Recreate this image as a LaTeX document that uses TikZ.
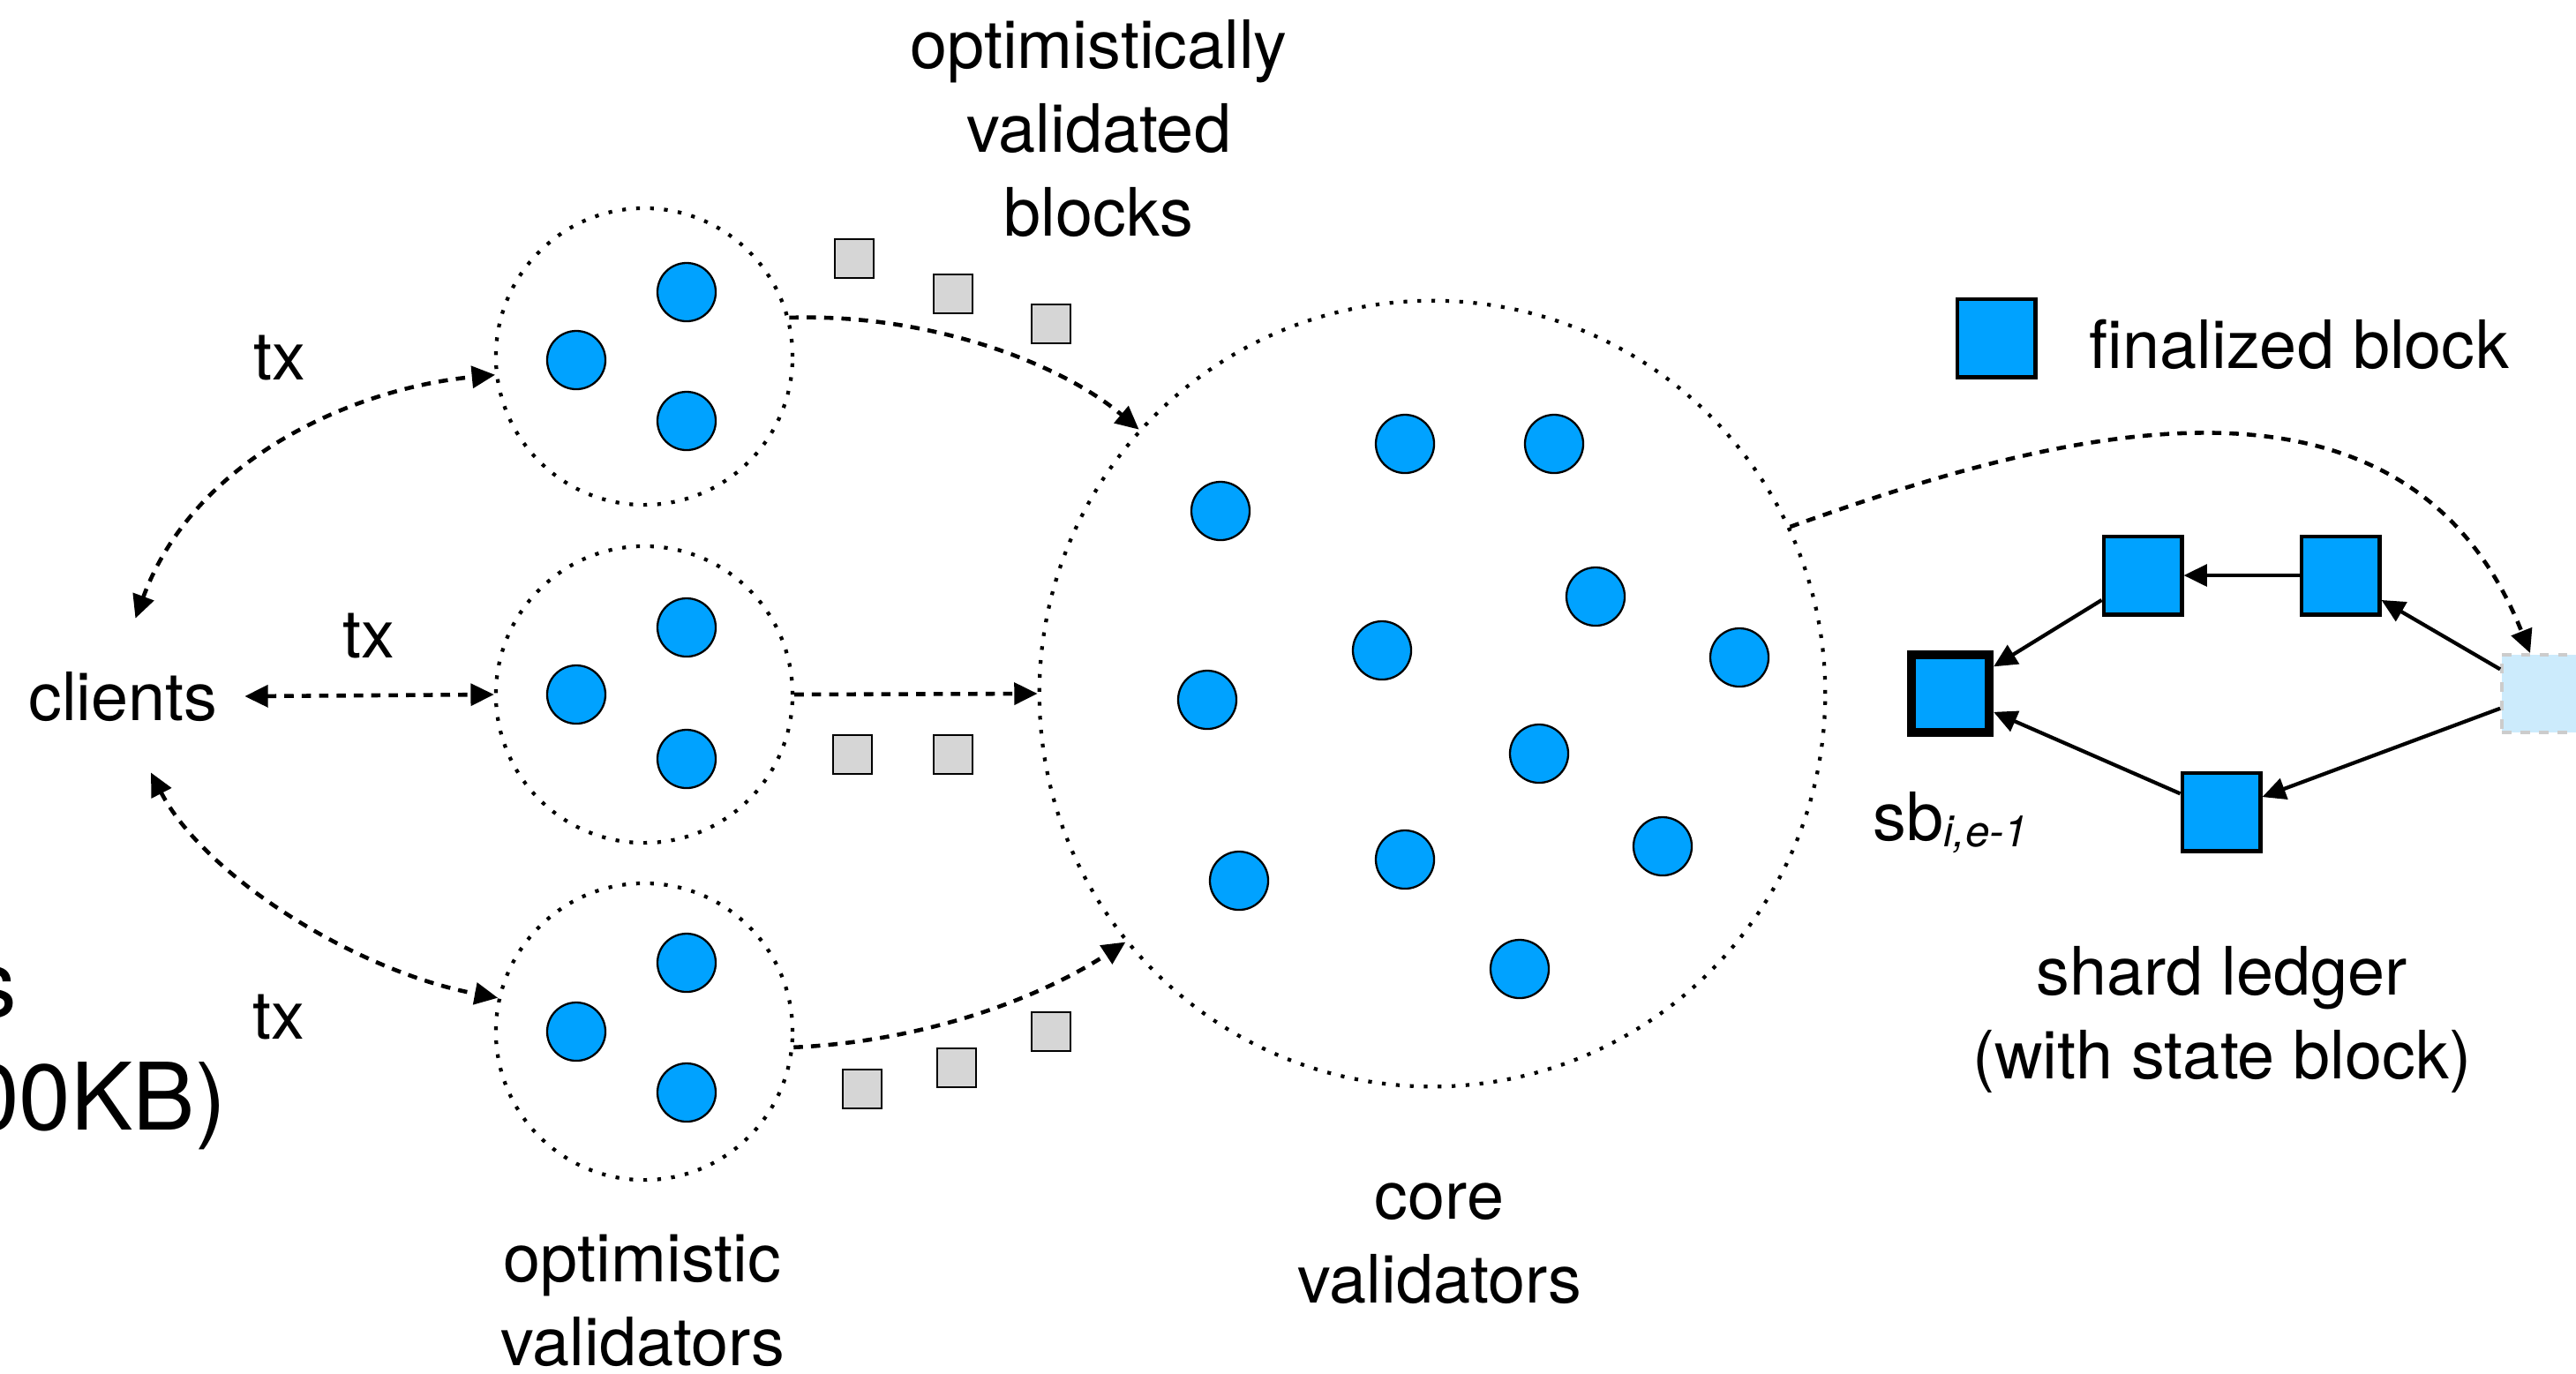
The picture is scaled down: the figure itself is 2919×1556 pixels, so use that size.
\documentclass[tikz,border=0pt]{standalone}
\usepackage{fontspec}
\setmainfont{TeX Gyre Heros}
\usetikzlibrary{arrows.meta,shapes.geometric}
\definecolor{dotblue}{HTML}{00A2FF}
\definecolor{blockgray}{HTML}{D6D6D6}
\definecolor{stateblue}{HTML}{CCEBFC}
\definecolor{stategray}{HTML}{CCCCCC}
\tikzset{
  lbl/.style={font=\fontsize{21.5}{27}\selectfont, inner sep=0pt},
  biglbl/.style={font=\fontsize{30}{36}\selectfont, inner sep=0pt},
  vdot/.style={circle, draw=black, line width=0.65pt, fill=dotblue, minimum size=0.66cm, inner sep=0pt},
  vgroup/.style={circle, draw=black, line width=1.2pt, dash pattern=on 1.2pt off 3.3pt, minimum size=3.36cm, inner sep=0pt},
  ovblock/.style={rectangle, draw=black, line width=0.6pt, fill=blockgray, minimum size=0.44cm, inner sep=0pt},
  fblock/.style={rectangle, draw=black, line width=1.4pt, fill=dotblue, minimum size=0.88cm, inner sep=0pt},
  flow/.style={line width=1.3pt, dash pattern=on 3pt off 2.6pt, -{Triangle[length=7.5pt,width=7pt]}},
  flowboth/.style={line width=1.3pt, dash pattern=on 3pt off 2.6pt, {Triangle[length=7.5pt,width=7pt]}-{Triangle[length=7.5pt,width=7pt]}},
  link/.style={line width=1.2pt, -{Triangle[length=7.5pt,width=7pt]}},
}
\begin{document}
\begin{tikzpicture}[x=0.01cm,y=-0.01cm]
\useasboundingbox (0,0) rectangle (2919,1556);

% label cut off at the left edge, as in the reference
\node[biglbl, anchor=base east] (cuta) at (20,1152) {s};
\node[biglbl, anchor=base east] (cutb) at (257,1280) {00KB)};

% clients (ellipse sized by minimum width/height only)
\node[ellipse, minimum width=2.74cm, minimum height=1.76cm, inner sep=0pt, lbl] (cl) at (139.5,789) {\makebox[0pt]{clients}};

% optimistic validator groups
\node[vgroup] (g1) at (730,404) {};
\node[vgroup] (g2) at (730,787) {};
\node[vgroup] (g3) at (730,1169) {};
\node[vdot] (g1a) at (653,408) {};
\node[vdot] (g1b) at (778,331) {};
\node[vdot] (g1c) at (778,477) {};
\node[vdot] (g2a) at (653,787) {};
\node[vdot] (g2b) at (778,711) {};
\node[vdot] (g2c) at (778,860) {};
\node[vdot] (g3a) at (653,1169) {};
\node[vdot] (g3b) at (778,1091) {};
\node[vdot] (g3c) at (778,1238) {};

% core validators
\node[vgroup, minimum size=8.9cm] (core) at (1623,786) {};
\node[vdot] (c1) at (1592,503) {};
\node[vdot] (c2) at (1761,503) {};
\node[vdot] (c3) at (1383,579) {};
\node[vdot] (c4) at (1808,676) {};
\node[vdot] (c5) at (1566,737) {};
\node[vdot] (c6) at (1971,745) {};
\node[vdot] (c7) at (1368,793) {};
\node[vdot] (c8) at (1744,854) {};
\node[vdot] (c9) at (1884,959) {};
\node[vdot] (c10) at (1404,998) {};
\node[vdot] (c11) at (1592,974) {};
\node[vdot] (c12) at (1722,1098) {};

% optimistically validated blocks
\node[ovblock] (o1) at (968,293) {};
\node[ovblock] (o2) at (1080,333) {};
\node[ovblock] (o3) at (1191,367) {};
\node[ovblock] (o4) at (966,855) {};
\node[ovblock] (o5) at (1080,855) {};
\node[ovblock] (o6) at (977,1234) {};
\node[ovblock] (o7) at (1084,1210) {};
\node[ovblock] (o8) at (1191,1169) {};

% shard ledger
\node[fblock] (leg) at (2262,383) {};
\node[fblock, line width=2.85pt] (sb) at (2210,786) {};
\node[fblock] (b1) at (2428,652) {};
\node[fblock] (b2) at (2652,652) {};
\node[fblock] (b3) at (2517,920) {};
\node[rectangle, minimum size=0.88cm, inner sep=0pt, fill=stateblue, draw=stategray, line width=1.1pt, dash pattern=on 3pt off 3pt] (st) at (2879,786) {};

% labels (base anchor of a multi-line node = last line's baseline)
\node[lbl, anchor=base] (tx1) at (317,430) {tx};
\node[lbl, anchor=base] (tx2) at (418,745) {tx};
\node[lbl, anchor=base] (tx3) at (316,1177) {tx};
\node[lbl, align=center, anchor=base] (ovbl) at (1245,267) {optimistically\\validated\\blocks};
\node[lbl, align=center, anchor=base] (corel) at (1631,1476) {core\\validators};
\node[lbl, align=center, anchor=base] (optl) at (728,1547) {optimistic\\validators};
\node[lbl, align=center, anchor=base] (shl) at (2518,1222) {shard ledger\\(with state block)};
\node[lbl, anchor=base west] (legl) at (2367,417) {finalized block};
\node[lbl, anchor=base west] (sbl) at (2122,952) {sb\raisebox{-2pt}{\fontsize{14}{14}\selectfont\itshape i,e-1}};

% client <-> optimistic validators
\draw[flowboth] (cl.81) .. controls (220,520) and (400,440) .. (g1.187);
\draw[flowboth] (cl.east) -- (g2.west);
\draw[flowboth] (cl.-70) .. controls (230,990) and (400,1100) .. (g3.167);

% optimistic validators -> core
\draw[flow] (g1.15) .. controls (1050,355) and (1200,410) .. (core.138.5);
\draw[flow] (g2.east) -- (core.west);
\draw[flow] (g3.-6.4) .. controls (1050,1180) and (1180,1130) .. (core.219);

% core -> state block
\draw[flow] (core.25) .. controls (2300,500) and (2720,370) .. ([xshift=-0.12cm]st.north);

% ledger links
\draw[link] (b2.west) -- (b1.east);
\draw[link] (b1.211) -- (sb.32.6);
\draw[link] (b3.156.5) -- (sb.-23.7);
\draw[link] (st.149) -- (b2.-31);
\draw[link] (st.200) -- (b3.20.6);
\end{tikzpicture}
\end{document}
